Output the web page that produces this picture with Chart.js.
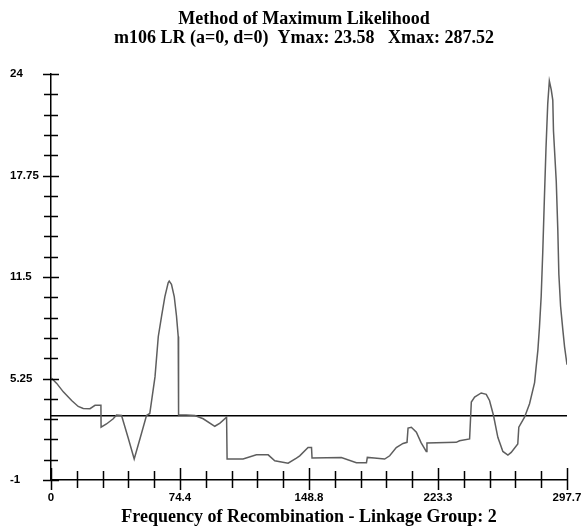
<!DOCTYPE html>
<html>
<head>
<meta charset="utf-8">
<title>Method of Maximum Likelihood</title>
<script src="https://cdn.jsdelivr.net/npm/chart.js@4.4.1/dist/chart.umd.min.js"></script>
<style>
  html, body { margin: 0; padding: 0; background: #fff; }
  #lr-chart { display: block; }
</style>
</head>
<body>
<canvas id="lr-chart" width="588" height="532"></canvas>
<script>
// ── Data ───────────────────────────────────────────────────
const posX = [0, 3.3, 7.1, 11.9, 15.7, 18.6, 22.5, 25.4, 28.8, 28.9, 32, 35.9, 37.8, 40.7, 44.5, 48, 51.5, 55.1, 57,
  60, 61.9, 63.8, 65.7, 67.6, 68.2, 69.5, 71.1, 72.4, 73.4, 73.6, 78, 83, 87.8, 94.5, 97.5,
  101.3, 101.6, 110.8, 118.5, 125.3, 129.1, 136.8, 141.6, 143.5, 148.3, 150.3, 150.6, 167.5,
  176.2, 182, 182.5, 186.5, 192.5, 195.4, 199.2, 203.1, 205.4, 206, 207.9, 210.8, 213.5,
  216.5, 216.9, 233.8, 235.7, 241.5, 242.5, 244.4, 248.2, 251.1, 253, 255.3, 257.8, 260.7,
  263.6, 265.5, 269.3, 269.9, 273.2, 276.1, 279, 279.9, 280.9, 281.8, 282.8, 283.7, 284.7,
  285.6, 286.6, 287.52, 288.6, 289.5, 289.9, 291.5, 292.4, 293, 294, 295.3, 296.3, 297.2, 297.7];
const lrY = [5.3, 4.95, 4.43, 3.9, 3.53, 3.4, 3.39, 3.6, 3.6, 2.25, 2.45, 2.77, 3.0, 2.97, 1.6, 0.29, 1.6, 2.97, 3.1,
  5.35, 7.84, 9.1, 10.3, 11.15, 11.25, 11.05, 10.3, 9.1, 7.84, 3.0, 3.0, 2.97, 2.77, 2.31, 2.5,
  2.87, 0.29, 0.29, 0.55, 0.55, 0.18, 0.04, 0.35, 0.49, 1.0, 1.0, 0.35, 0.39,
  0.07, 0.07, 0.39, 0.35, 0.29, 0.49, 1.0, 1.25, 1.32, 2.2, 2.25, 1.94, 1.3,
  0.76, 1.28, 1.32, 1.42, 1.53, 3.8, 4.11, 4.36, 4.28, 3.9, 2.97, 1.63, 0.76,
  0.53, 0.7, 1.22, 2.25, 2.87, 3.7, 5.0, 5.97, 7.0, 8.4, 10.3, 13.0, 16.5,
  19.5, 22.2, 23.58, 23.05, 22.4, 20.5, 17.4, 14.4, 11.67, 9.7, 8.25, 7.2, 6.5, 6.1];

// threshold line
const thrX = [0, 297.7];
const thrY = [2.95, 2.95];

// axes
const xMin = 0, xMax = 297.7, xStep = 14.885;
const yMin = -1, yMax = 24, yStep = 1.25;
const xTickLabels = ['0', '74.4', '148.8', '223.3', '297.7'];
const yTickLabels = ['-1', '5.25', '11.5', '17.75', '24'];

const titleLines = ['Method of Maximum Likelihood', 'm106 LR (a=0, d=0)  Ymax: 23.58   Xmax: 287.52'];
const xTitle = 'Frequency of Recombination - Linkage Group: 2';

const toPoints = (xs, ys) => xs.map((x, i) => ({ x, y: ys[i] }));

// ── Cross ticks on both axes ───────────────────────────────
const crossTicks = {
  id: 'crossTicks',
  afterDraw(chart) {
    const { ctx, chartArea: area, scales: { x, y } } = chart;
    ctx.save();
    ctx.strokeStyle = '#000';
    ctx.lineWidth = 1.5;
    ctx.beginPath();
    y.ticks.forEach((t, i) => {
      const py = Math.round(y.getPixelForValue(t.value)) + 0.5;
      const len = i % 5 === 0 ? 8 : 7;
      ctx.moveTo(area.left - len, py); ctx.lineTo(area.left + len, py);
    });
    x.ticks.forEach((t, i) => {
      const px = Math.round(x.getPixelForValue(t.value)) + 0.5;
      const up = i % 5 === 0 ? 12 : 9, down = i % 5 === 0 ? 10 : 8;
      ctx.moveTo(px, area.bottom - up); ctx.lineTo(px, area.bottom + down);
    });
    ctx.stroke();
    ctx.restore();
  }
};

const tickFont = { family: 'Liberation Sans', size: 11.5, weight: 'bold' };
const titleFont = { family: 'Liberation Serif', size: 18, weight: 'bold' };

new Chart(document.getElementById('lr-chart'), {
  type: 'line',
  data: {
    datasets: [
      { data: toPoints(posX, lrY), borderColor: '#5e5e5e', borderWidth: 1.5, pointRadius: 0, tension: 0 },
      { data: toPoints(thrX, thrY), borderColor: '#000', borderWidth: 1.5, pointRadius: 0, tension: 0 },
    ]
  },
  options: {
    responsive: false,
    animation: false,
    // right padding below zero only widens the title box; the plot edge comes from x paddingRight
    layout: { padding: { left: 10, right: -10, top: 0, bottom: 0 } },
    plugins: {
      legend: { display: false },
      tooltip: { enabled: false },
      title: {
        display: true, text: titleLines, color: '#000',
        font: { ...titleFont, lineHeight: 1.1 },
        padding: { top: 9, bottom: 25.5 }
      }
    },
    scales: {
      x: {
        type: 'linear', min: xMin, max: xMax,
        grid: { display: false, drawTicks: false },
        border: { display: true, color: '#000', width: 1.5 },
        ticks: {
          stepSize: xStep, autoSkip: false, maxRotation: 0, padding: 11,
          color: '#000', font: tickFont,
          callback: (v, i) => i % 5 === 0 ? xTickLabels[i / 5] : ''
        },
        title: {
          display: true, text: xTitle, color: '#000',
          font: titleFont,
          padding: { top: 0, bottom: 4 }
        },
        afterFit: s => { s.height = 52; s.paddingRight = 21; }
      },
      y: {
        min: yMin, max: yMax,
        grid: { display: false, drawTicks: false },
        border: { display: true, color: '#000', width: 1.5 },
        ticks: {
          stepSize: yStep, autoSkip: false, crossAlign: 'far',
          color: '#000', font: tickFont,
          callback: (v, i) => i % 5 === 0 ? yTickLabels[i / 5] : ''
        },
        afterFit: s => { s.width = 41; }
      }
    }
  },
  plugins: [crossTicks]
});
</script>
</body>
</html>
